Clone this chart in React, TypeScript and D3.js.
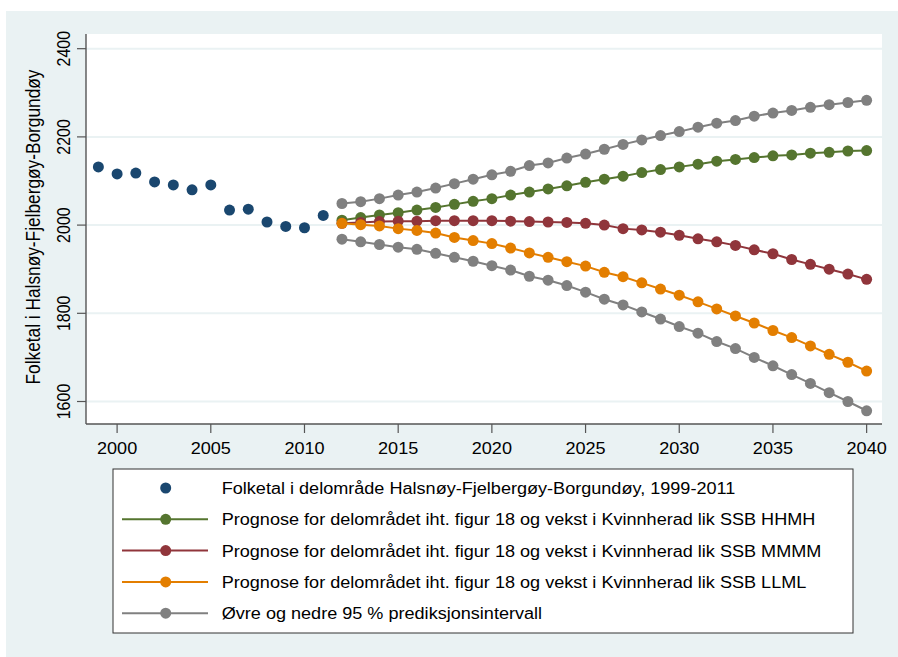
import React from "react";
import * as d3 from "d3";

const histYears = [1999, 2000, 2001, 2002, 2003, 2004, 2005, 2006, 2007, 2008, 2009, 2010, 2011];
const histValues = [2132, 2116, 2118, 2098, 2091, 2080, 2091, 2034, 2036, 2007, 1997, 1994, 2022];

const progYears = d3.range(2012, 2041);
const hhmh = [2011, 2017, 2023, 2028, 2034, 2040, 2047, 2054, 2060, 2068, 2075, 2082, 2089, 2097,
  2104, 2111, 2119, 2126, 2132, 2138, 2145, 2149, 2153, 2157, 2159, 2163, 2165, 2168, 2169];
const mmmm = [2004, 2006, 2008, 2009, 2009, 2010, 2010, 2010, 2010, 2009, 2008, 2007, 2006, 2004,
  2000, 1992, 1989, 1984, 1977, 1969, 1962, 1954, 1944, 1935, 1922, 1911, 1900, 1889, 1877];
const llml = [2004, 2001, 1998, 1992, 1988, 1982, 1972, 1965, 1958, 1948, 1937, 1927, 1917, 1907,
  1893, 1883, 1869, 1855, 1841, 1826, 1810, 1794, 1778, 1761, 1745, 1726, 1707, 1689, 1669];
const upper95 = [2049, 2053, 2060, 2068, 2075, 2084, 2094, 2104, 2114, 2122, 2135, 2141, 2152, 2161,
  2172, 2183, 2193, 2203, 2212, 2222, 2231, 2237, 2247, 2254, 2260, 2267, 2273, 2278, 2283];
const lower95 = [1968, 1962, 1956, 1950, 1945, 1936, 1927, 1918, 1908, 1898, 1884, 1875, 1863, 1848,
  1832, 1819, 1803, 1787, 1770, 1755, 1736, 1720, 1700, 1681, 1661, 1641, 1620, 1600, 1579];

const xTicks = [2000, 2005, 2010, 2015, 2020, 2025, 2030, 2035, 2040];
const yTicks = [1600, 1800, 2000, 2200, 2400];

const yTitle = "Folketal i Halsnøy-Fjelbergøy-Borgundøy";
const legendLabels = [
  "Folketal i delområde Halsnøy-Fjelbergøy-Borgundøy, 1999-2011",
  "Prognose for delområdet iht. figur 18 og vekst i Kvinnherad lik SSB HHMH",
  "Prognose for delområdet iht. figur 18 og vekst i Kvinnherad lik SSB MMMM",
  "Prognose for delområdet iht. figur 18 og vekst i Kvinnherad lik SSB LLML",
  "Øvre og nedre 95 % prediksjonsintervall",
];

const NAVY = "#1a476f";
const GREEN = "#55752f";
const MAROON = "#90353b";
const ORANGE = "#e37e00";
const GRAY = "#808080";
const BG = "#eaf2f3";

const W = 898;
const H = 657;
const plot = { left: 86, right: 882, top: 34, bottom: 424 };
const FONT = "'Liberation Sans', Arial, sans-serif";
const SX = 1.13;
const FS = 16;

function SText(props: { x: number; y: number; rotate?: boolean; anchor?: string; size?: number; children: React.ReactNode }) {
  const { x, y, rotate, anchor, size, children } = props;
  return (
    <text
      transform={`translate(${x},${y}) scale(${SX},1)${rotate ? " rotate(-90)" : ""}`}
      textAnchor={anchor || "start"}
      fontFamily={FONT}
      fontSize={size || FS}
      fill="#000"
    >
      {children}
    </text>
  );
}

export default function App() {
  const x = d3.scaleLinear().domain([1998.34, 2040.82]).range([plot.left, plot.right]);
  const y = d3.scaleLinear().domain([1549, 2433.3]).range([plot.bottom, plot.top]);
  const line = d3
    .line<[number, number]>()
    .x((d) => x(d[0]))
    .y((d) => y(d[1]));

  const series = [
    { values: hhmh, color: GREEN },
    { values: mmmm, color: MAROON },
    { values: llml, color: ORANGE },
    { values: upper95, color: GRAY },
    { values: lower95, color: GRAY },
  ];

  const r = 5.5;
  const legend = { left: 113, top: 469, right: 853, bottom: 633 };
  const legendColors = [NAVY, GREEN, MAROON, ORANGE, GRAY];
  const rowY = (i: number) => 488 + i * 31.3;

  return (
    <svg width={W} height={H} style={{ position: "absolute", left: 0, top: 0 }}>
      <rect x={0} y={0} width={W} height={H} fill="#fff" />
      <rect x={6} y={11} width={W - 6} height={H - 11} fill={BG} />
      <rect x={plot.left} y={plot.top} width={plot.right - plot.left} height={plot.bottom - plot.top} fill="#fff" />
      {yTicks.map((t) => (
        <line key={"g" + t} x1={plot.left} x2={plot.right} y1={y(t)} y2={y(t)} stroke={BG} strokeWidth={2} />
      ))}
      {/* axes */}
      <line x1={plot.left} x2={plot.left} y1={plot.top} y2={plot.bottom} stroke="#555" strokeWidth={1.4} />
      <line x1={plot.left} x2={plot.right} y1={plot.bottom} y2={plot.bottom} stroke="#555" strokeWidth={1.4} />
      {yTicks.map((t) => (
        <g key={"yt" + t}>
          <line x1={plot.left - 9} x2={plot.left} y1={y(t)} y2={y(t)} stroke="#555" strokeWidth={1.2} />
          <SText x={70} y={y(t)} rotate anchor="middle">{t}</SText>
        </g>
      ))}
      {xTicks.map((t) => (
        <g key={"xt" + t}>
          <line x1={x(t)} x2={x(t)} y1={plot.bottom} y2={plot.bottom + 9} stroke="#555" strokeWidth={1.2} />
          <SText x={x(t)} y={454} anchor="middle">{t}</SText>
        </g>
      ))}
      <SText x={40} y={227} rotate anchor="middle" size={17.3}>{yTitle}</SText>

      {/* historical */}
      {histYears.map((yr, i) => (
        <circle key={"h" + yr} cx={x(yr)} cy={y(histValues[i])} r={r} fill={NAVY} />
      ))}
      {series.map((s, si) => {
        const pts: [number, number][] = progYears.map((yr, i) => [yr, s.values[i]]);
        return (
          <g key={"s" + si}>
            <path d={line(pts) || ""} fill="none" stroke={s.color} strokeWidth={2} />
            {pts.map((p) => (
              <circle key={p[0]} cx={x(p[0])} cy={y(p[1])} r={r} fill={s.color} />
            ))}
          </g>
        );
      })}

      {/* legend */}
      <rect
        x={legend.left}
        y={legend.top}
        width={legend.right - legend.left}
        height={legend.bottom - legend.top}
        fill="#fff"
        stroke="#333"
        strokeWidth={1}
      />
      {legendLabels.map((lab, i) => (
        <g key={"l" + i}>
          {i > 0 && <line x1={122} x2={208} y1={rowY(i)} y2={rowY(i)} stroke={legendColors[i]} strokeWidth={2} />}
          <circle cx={165.7} cy={rowY(i)} r={r} fill={legendColors[i]} />
          <SText x={221.7} y={rowY(i) + 6}>{lab}</SText>
        </g>
      ))}
    </svg>
  );
}
